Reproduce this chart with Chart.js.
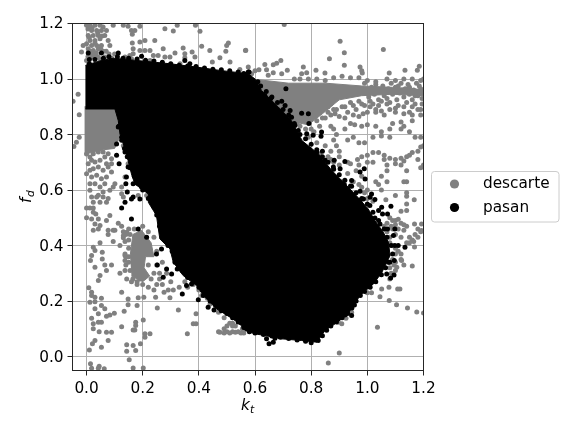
<!DOCTYPE html>
<html><head><meta charset="utf-8">
<style>html,body{margin:0;padding:0;background:#fff}canvas{display:block}</style>
<script src="https://cdn.jsdelivr.net/npm/chart.js@4"></script></head>
<body><canvas id="c" width="576" height="432"></canvas>
<script>
const seriesNames = ['descarte', 'pasan'];
const seriesColors = ['#808080', '#000000'];
const kTicks = [0, 0.2, 0.4, 0.6, 0.8, 1.0, 1.2];
const fTicks = [0, 0.2, 0.4, 0.6, 0.8, 1.0, 1.2];

// Outline of the solid mass of "pasan" points
const pasanMass = [[-0.004,1.049],[0.047,1.065],[0.095,1.075],[0.178,1.067],[0.297,1.055],[0.392,1.043],[0.475,1.031],[0.576,1.019],[0.6,1.0],[0.623,0.959],[0.683,0.899],[0.73,0.851],[0.766,0.779],[0.825,0.731],[0.873,0.671],[0.92,0.623],[0.968,0.572],[1.003,0.532],[1.027,0.49],[1.057,0.448],[1.075,0.412],[1.081,0.364],[1.052,0.304],[1.022,0.262],[0.986,0.232],[0.956,0.196],[0.932,0.154],[0.885,0.118],[0.849,0.094],[0.82,0.052],[0.766,0.058],[0.695,0.064],[0.635,0.076],[0.6,0.082],[0.564,0.094],[0.546,0.118],[0.511,0.142],[0.463,0.172],[0.416,0.22],[0.392,0.256],[0.344,0.292],[0.309,0.34],[0.297,0.388],[0.261,0.424],[0.249,0.508],[0.22,0.556],[0.22,0.586],[0.172,0.622],[0.16,0.658],[0.148,0.706],[0.131,0.766],[0.119,0.802],[0.113,0.85],[0.101,0.892],[-0.004,0.892]];

// Outlines of the solid masses of "descarte" points
const descarteLeftMass = [[-0.007,0.9],[0.11,0.9],[0.115,0.84],[0.118,0.79],[0.1,0.75],[0.06,0.745],[0.02,0.735],[-0.007,0.73]];
const descarteBandMass = [[0.59,1.0],[0.72,0.985],[0.85,0.985],[0.98,0.975],[1.09,0.97],[1.2,0.962],[1.2,0.94],[1.09,0.945],[0.98,0.94],[0.9,0.925],[0.84,0.875],[0.79,0.835],[0.74,0.845],[0.68,0.89],[0.62,0.95]];
const descarteClusterMass = [[0.155,0.36],[0.165,0.44],[0.196,0.455],[0.23,0.41],[0.24,0.36],[0.21,0.36],[0.205,0.32],[0.225,0.29],[0.2,0.27],[0.16,0.29]];

const pasanScatter = [[0.006,1.094],[0.01,1.07],[0.053,1.094],[0.113,1.094],[0.196,1.082],[0.35,1.067],[0.368,1.055],[0.113,0.827],[0.107,0.766],[0.125,0.779],[0.107,0.725],[0.137,0.737],[0.116,0.695],[0.148,0.683],[0.142,0.647],[0.14,0.623],[0.166,0.623],[0.145,0.593],[0.196,0.611],[0.166,0.575],[0.576,1.025],[0.579,1.025],
[0.71,0.965],[0.635,0.94],[0.656,0.93],[0.695,0.92],[0.707,0.905],[0.725,0.887],[0.766,0.877],[0.79,0.875],[0.792,0.84],[0.713,0.85],[0.73,0.862],[0.742,0.833],[0.72,0.815],[0.754,0.815],[0.784,0.803],[0.807,0.797],[0.837,0.809],[0.835,0.794],[0.82,0.737],[0.84,0.74],[0.85,0.707],[0.882,0.707],[0.92,0.703],[0.879,0.683],[0.903,0.677],[0.989,0.677],[0.974,0.665],[0.992,0.64],[0.944,0.634],[0.918,0.62],[0.944,0.614],[0.932,0.592],[0.974,0.596],[1.015,0.586],
[0.137,0.556],[0.125,0.535],[0.16,0.568],[0.19,0.568],[0.16,0.496],[0.184,0.46],[0.214,0.43],[0.249,0.37],[0.267,0.388],[0.252,0.33],[0.285,0.316],[0.273,0.286],[0.315,0.34],[0.323,0.316],[0.303,0.298],[0.356,0.256],[0.341,0.226],[0.374,0.262],[0.398,0.205],[0.416,0.22],[0.433,0.178],[0.454,0.168],[0.55,0.122],
[0.641,0.064],[0.65,0.046],[0.665,0.052],[0.671,0.066],[0.92,0.15],[0.944,0.148],[0.954,0.186],[1.069,0.298],[1.083,0.283],[1.095,0.294],[1.096,0.346],[1.075,0.34],[1.134,0.394],[1.098,0.4],[1.11,0.4],[1.093,0.436],[1.098,0.46],[1.072,0.46],[1.045,0.478],[1.027,0.499],[1.009,0.544],[1.051,0.538],[1.04,0.526],[1.084,0.542],[1.054,0.514],[1.072,0.514],[0.974,0.562],[0.986,0.568],[1.01,0.574],[1.027,0.566]];

// "pasan" points that roughen the edge of the solid mass
const pasanEdge = [[0.01,1.055],[0.03,1.07],[0.06,1.075],[0.08,1.08],[0.11,1.08],[0.13,1.075],[0.15,1.075],[0.18,1.072],[0.21,1.068],[0.24,1.065],[0.27,1.06],[0.3,1.055],[0.33,1.05],[0.36,1.047],[0.39,1.045],[0.42,1.04],[0.45,1.035],[0.48,1.033],[0.51,1.03],[0.54,1.025],[0.56,1.02],
[0.61,0.99],[0.62,0.975],[0.64,0.955],[0.66,0.935],[0.68,0.915],[0.7,0.89],[0.72,0.87],[0.74,0.84],[0.76,0.8],[0.78,0.785],[0.8,0.765],[0.82,0.745],[0.84,0.72],[0.86,0.7],[0.88,0.675],[0.9,0.655],[0.92,0.635],[0.94,0.615],[0.96,0.59],[0.98,0.57],[1.0,0.55],[1.02,0.52],[1.04,0.49],[1.06,0.46],[1.07,0.43],[1.085,0.4],[1.09,0.37],[1.08,0.34],[1.065,0.32],[1.05,0.295],[1.03,0.27],[1.01,0.25],[0.99,0.235],[0.975,0.22],[0.96,0.2],[0.945,0.175],[0.93,0.155],[0.91,0.14],[0.89,0.125],[0.87,0.11],[0.855,0.095],[0.84,0.075],[0.825,0.058],[0.8,0.05],[0.78,0.055],[0.75,0.06],[0.72,0.065],[0.69,0.07],[0.66,0.074],[0.63,0.08],[0.6,0.085],[0.58,0.09],
[0.56,0.105],[0.54,0.125],[0.52,0.14],[0.5,0.155],[0.48,0.165],[0.46,0.185],[0.44,0.2],[0.42,0.225],[0.4,0.25],[0.38,0.27],[0.36,0.285],[0.34,0.31],[0.32,0.35],[0.305,0.38],[0.29,0.4],[0.27,0.44],[0.26,0.47],[0.25,0.51],[0.24,0.54],[0.22,0.57],[0.2,0.6],[0.18,0.625],[0.17,0.65],[0.155,0.68],[0.145,0.72],[0.135,0.75],[0.125,0.79],[0.115,0.83]];

const descarteScatter = [[0,1.194],[0.012,1.194],[0.03,1.194],[0.048,1.194],[0.059,1.187],[0.018,1.175],[0.036,1.175],[0.053,1.175],[0.071,1.175],[0.006,1.157],[0.024,1.157],[0.042,1.157],[0.065,1.157],[0.012,1.139],[0.03,1.139],[0.048,1.145],[0.077,1.139],[0,1.127],[0.018,1.121],[0.036,1.121],[0.053,1.121],[-0.012,1.121],[-0.018,1.097],[0.006,1.109],[0.024,1.103],[0.042,1.109],[0.03,1.085],[0.048,1.073],[0.018,1.079],[0.065,1.079],[0,1.067],[0.083,1.121],[0.095,1.194],[0.131,1.194],[0.148,1.19],[0.19,1.19],[0.16,1.175],[0.172,1.175],[0.163,1.161],[0.279,1.181],[0.309,1.173],[0.323,1.194],[0.388,1.194],[0.404,1.172],[0.163,1.13],[0.19,1.133],[0.208,1.139],[0.243,1.139],[0.166,1.109],[0.154,1.085],[0.166,1.091],[0.19,1.103],[0.208,1.103],[0.226,1.103],[0.238,1.085],[0.255,1.085],[0.226,1.067],[0.16,1.073],[0.137,1.079],[0.273,1.109],[0.344,1.112],[0.41,1.118],[0.505,1.13],[0.499,1.121],[0.439,1.103],[0.496,1.1],[0.566,1.103],[0.279,1.079],[0.297,1.079],[0.315,1.094],[0.35,1.091],[0.35,1.077],[0.376,1.097],[0.386,1.079],[0.333,1.055],[0.475,1.077],[0.448,1.061],[0.546,1.034],[0.511,1.061],
[0.005,1.18],[0.02,1.185],[0.04,1.165],[0.055,1.155],[0.01,1.15],[0.03,1.13],[0.05,1.11],[0.015,1.1],[0.035,1.095],[0.06,1.1],[0.08,1.09],[0.07,1.1],[0.02,1.09],[0.005,1.08],[0.04,1.08],[0.06,1.06],[0.1,1.09],[0.09,1.075],
[-0.03,0.945],[-0.048,0.92],[-0.026,0.871],[-0.026,0.79],[-0.036,0.772],[-0.045,0.757],
[0,0.73],[0.012,0.719],[0.024,0.731],[0.042,0.737],[0.059,0.737],[0.077,0.731],[0.006,0.695],[0.018,0.707],[0.03,0.701],[0.048,0.707],[0.065,0.719],[0.089,0.713],[0.012,0.671],[0.024,0.677],[0.042,0.683],[0.071,0.695],[0.089,0.695],[0.059,0.671],[0.077,0.683],[0.018,0.647],[0,0.659],[0.036,0.653],[0.053,0.641],[0.071,0.647],[0.089,0.665],[0.101,0.623],[0.012,0.623],[0.03,0.623],[0.065,0.623],[0.048,0.611],[0.095,0.611],[0.012,0.599],[0.059,0.593],[0.083,0.599],[0.018,0.575],[0.042,0.581],[0.125,0.611],[0.125,0.587],[0.131,0.575],[0.137,0.647],[0.148,0.695],[0.131,0.76],[0.145,0.752],[0.16,0.707],[0.16,0.737],[0.226,0.623],[0.214,0.58],[0.184,0.58],
[0.036,0.575],[0.059,0.575],[0.077,0.57],[0.024,0.556],[0.048,0.556],[0.071,0.556],[0.012,0.535],[0.024,0.535],[0,0.535],[0.024,0.52],[0,0.5],[0.033,0.514],[0.018,0.496],[0.042,0.496],[0.083,0.508],[0.071,0.49],[0.03,0.478],[0.048,0.472],[0.077,0.455],[0.101,0.455],[0.113,0.48],[0.125,0.47],[0.143,0.448],[0.131,0.428],[0.137,0.415],[0.024,0.455],[0.042,0.46],[0.095,0.455],[0.131,0.45],[0.131,0.435],[0.077,0.44],[0.095,0.415],[0.048,0.41],[0.024,0.394],[0.03,0.382],[0.018,0.364],[0.056,0.376],[0.056,0.352],[0.014,0.346],[0.119,0.4],[0.137,0.37],[0.137,0.364],[0.137,0.346],[0.03,0.322],[0.065,0.33],[0.089,0.33],[0.071,0.31],[0.048,0.292],[0.042,0.274],[0.119,0.3],[0.137,0.31],[0.143,0.28],[0.008,0.248],[0.018,0.232],[0.018,0.22],[0.03,0.214],[0.053,0.21],[0.012,0.196],[0.03,0.198],[0.053,0.184],[0.03,0.172],[0.042,0.154],[0.065,0.172],[0.071,0.145],[0.083,0.15],[0.099,0.156],[0.018,0.138],[0.042,0.124],[0.053,0.124],[0.024,0.118],[0.024,0.1],[0.045,0.09],[0.071,0.088],[0.089,0.088],[0.125,0.108],[0.166,0.096],[0.175,0.124],[0.175,0.112],[0.172,0.096],[0.202,0.132],[0.208,0.082],[0.226,0.082],[0.208,0.07],[0.077,0.058],[0.03,0.058],[0.021,0.046],[0.053,0.034],[0.01,0.024],[0.143,0.043],[0.143,0.019],[0.166,0.04],[0.192,0.046],[0.175,0.022],[0.152,-0.011],[0.014,-0.026],[0.018,-0.042],[0.042,-0.042],[0.045,-0.035],[0.063,-0.044],[0.166,-0.041],[0.202,-0.041],[0.125,0.232],[0.148,0.208],[0.184,0.212],[0.204,0.214],[0.148,0.187],[0.134,0.163],[0.18,0.184],[0.252,0.175],[0.327,0.168],[0.39,0.154],[0.38,0.118],[0.39,0.118],[0.359,0.082],[0.297,0.212],[0.246,0.214],[0.276,0.232],[0.291,0.24],[0.309,0.24],
[0.15,0.46],[0.155,0.44],[0.15,0.42],[0.15,0.39],[0.15,0.36],[0.15,0.34],[0.155,0.31],[0.165,0.28],[0.18,0.27],[0.2,0.26],[0.22,0.25],[0.24,0.24],[0.25,0.26],[0.26,0.28],[0.27,0.26],[0.24,0.3],[0.22,0.33],[0.25,0.33],[0.26,0.3],[0.23,0.28],[0.21,0.29],[0.19,0.28],[0.17,0.46],[0.2,0.47],[0.22,0.45],[0.24,0.43],[0.25,0.38],[0.27,0.34],[0.285,0.3],[0.3,0.27],[0.33,0.25],[0.14,0.44],[0.14,0.36],[0.14,0.33],[0.16,0.27],[0.18,0.26],
[0.35,0.27],[0.36,0.25],[0.38,0.26],[0.4,0.24],[0.41,0.22],[0.43,0.21],[0.44,0.19],[0.46,0.18],[0.47,0.16],[0.49,0.14],[0.52,0.12],
[0.475,0.088],[0.49,0.1],[0.5,0.09],[0.51,0.085],[0.52,0.09],[0.53,0.088],[0.54,0.09],[0.55,0.085],[0.56,0.085],[0.5,0.11],[0.51,0.12],[0.49,0.085],[0.52,0.11],[0.47,0.09],[0.53,0.11],[0.555,0.1],
[0.704,1.196],[0.903,1.136],[0.918,1.095],[1.057,1.106],[0.567,1.104],[0.865,1.073],[0.918,1.05],[0.692,1.067],[0.677,1.057],[0.665,1.051],[0.635,1.052],[0.576,1.043],[0.772,1.043],[0.974,1.043],[1.185,1.046],[1.178,1.032],[1.134,1.032],[1.078,1.022],[0.98,1.03],[0.982,1.022],[0.817,1.032],[0.784,1.023],[0.766,1.019],[0.849,1.022],[0.715,1.032],[0.695,1.019],[0.665,1.023],[0.641,1.033],[0.614,1.033],[0.6,1.03],[0.647,1.014],[0.588,1.019],
[0.74,1.0],[0.76,1.0],[0.79,1.0],[0.82,1.0],[0.85,0.995],[0.88,1.005],[0.91,1.01],[0.94,1.005],[0.97,1.005],[1.0,0.995],[1.03,0.99],[1.07,1.0],[1.1,0.995],[1.13,1.0],[1.16,1.0],[1.19,0.995],[1.2,1.0],
[0.99,0.985],[1.0,0.955],[1.005,0.935],[1.015,0.97],[1.025,0.945],[1.03,0.98],[1.04,0.925],[1.045,0.96],[1.055,0.975],[1.06,0.94],[1.07,0.93],[1.075,0.965],[1.085,0.985],[1.09,0.945],[1.1,0.97],[1.105,0.925],[1.115,0.95],[1.12,0.985],[1.13,0.935],[1.135,0.965],[1.145,0.98],[1.15,0.945],[1.16,0.925],[1.165,0.96],[1.175,0.985],[1.18,0.94],[1.19,0.965],[1.195,0.93],[1.2,0.95],[1.01,0.92],[1.08,0.955],[1.125,0.96],[1.17,0.94],[1.11,0.975],[1.03,0.96],[1.065,0.955],[1.15,0.97],[1.185,0.975],
[0.94,0.915],[0.97,0.92],[0.99,0.905],[1.02,0.91],[1.05,0.92],[1.08,0.915],[1.11,0.905],[1.14,0.915],[1.17,0.91],[1.195,0.91],[0.91,0.9],[0.88,0.89],[0.85,0.86],[0.86,0.9],[0.76,0.83],[0.8,0.82],
[0.66,0.9],[0.69,0.88],[0.71,0.87],[0.75,0.84],[0.78,0.82],[0.81,0.81],[0.83,0.83],[0.86,0.88],[0.89,0.89],[0.92,0.9],[0.95,0.905],[0.98,0.91],[1.01,0.9],[1.04,0.905],[1.07,0.91],[1.1,0.895],[1.13,0.9],[1.16,0.9],[1.19,0.89],[0.87,0.91],[0.96,0.89],[1.03,0.89],[1.06,0.87],[1.15,0.88],
[0.7,0.86],[0.73,0.82],[0.76,0.78],[0.79,0.79],[0.82,0.77],[0.85,0.76],[0.83,0.73],[0.87,0.74],[0.88,0.7],[0.84,0.69],[0.9,0.69],[0.93,0.66],[0.91,0.63],[0.95,0.63],[0.97,0.62],[0.99,0.59],[1.0,0.57],[1.02,0.56],[0.98,0.61],
[1.06,0.47],[1.07,0.45],[1.08,0.43],[1.08,0.41],[1.09,0.4],[1.1,0.37],[1.09,0.35],[1.1,0.31],[1.085,0.3],[1.08,0.32],
[0.82,0.85],[0.84,0.86],[0.87,0.87],[0.885,0.875],[0.9,0.865],[0.92,0.86],[0.93,0.88],[0.95,0.87],[0.97,0.865],[0.985,0.875],[1.0,0.88],[1.03,0.88],[1.05,0.885],[1.08,0.89],[1.1,0.88],[1.13,0.875],[1.16,0.87],[1.18,0.89],[1.19,0.87],[0.87,0.83],[0.88,0.82],[0.89,0.8],[0.92,0.82],[0.94,0.84],[0.955,0.835],[0.98,0.83],[1.0,0.835],[1.03,0.83],[1.05,0.81],[1.08,0.82],[1.09,0.84],[1.12,0.845],[1.12,0.82],[1.13,0.83],[1.16,0.85],[1.15,0.81],[1.19,0.79],[1.17,0.79],[0.88,0.78],[0.89,0.76],[0.9,0.74],[0.93,0.78],[0.95,0.79],[0.97,0.77],[0.99,0.77],[1.02,0.79],[1.05,0.795],[1.08,0.79],[0.86,0.72],[0.87,0.71],[0.9,0.72],[0.93,0.7],[0.94,0.695],[0.96,0.67],[0.98,0.65],[0.97,0.69],[1.0,0.7],
[0.965,0.71],[0.98,0.72],[1.0,0.725],[1.02,0.735],[1.04,0.735],[1.06,0.725],[1.08,0.715],[1.1,0.71],[1.12,0.715],[1.14,0.72],[1.16,0.735],[1.18,0.74],[1.19,0.755],[1.2,0.76],[1.02,0.7],[1.06,0.71],[1.07,0.69],[1.1,0.695],[1.12,0.69],[1.13,0.705],[1.15,0.725],[1.19,0.68],[1.18,0.71],[1.2,0.69],[1.05,0.65],[1.07,0.67],[1.07,0.63],[1.13,0.63],[1.14,0.63],[1.14,0.67],[1.0,0.6],[1.04,0.62],[1.03,0.63],[1.1,0.58],[1.14,0.59],[1.05,0.6],
[1.066,0.565],[1.14,0.578],[1.167,0.565],[1.14,0.55],[1.14,0.526],[1.12,0.524],[1.193,0.478],[1.168,0.478],[1.18,0.46],[1.193,0.454],[1.08,0.5],[1.09,0.49],[1.1,0.49],[1.11,0.495],[1.12,0.48],[1.1,0.475],[1.085,0.47],[1.07,0.48],[1.09,0.46],[1.11,0.46],[1.13,0.475],[1.14,0.47],[1.13,0.455],[1.1,0.44],[1.12,0.43],[1.15,0.43],[1.16,0.42],[1.14,0.41],[1.15,0.41],[1.18,0.43],[1.19,0.45],[1.17,0.44],[1.165,0.415],[1.168,0.395],[1.1,0.39],[1.11,0.38],[1.12,0.37],[1.12,0.35],[1.1,0.34],[1.095,0.33],[1.13,0.33],[1.08,0.28],[1.078,0.202],[1.104,0.187],[1.143,0.175],[1.176,0.161],[1.2,0.157],[1.036,0.106],[0.9,0.013],[0.861,-0.023],[1.045,0.216],[1.077,0.25],[1.108,0.244],[1.116,0.244],[1.051,0.244],[1.015,0.23],[1.0,0.23],[1.16,0.326],[1.122,0.346],[1.105,0.322],[0.909,0.118],[0.897,0.124],[0.944,0.16],[0.924,0.138]];

const toPts = a => a.map(p => ({x: p[0], y: p[1]}));
const scatterSet = (pts, col) => ({data: toPts(pts), backgroundColor: col, borderWidth: 0, pointRadius: 2.5, pointHoverRadius: 2.5, pointBorderWidth: 0, showLine: false});
const massSet = (pts, col) => ({data: toPts(pts), showLine: true, fill: 'shape', backgroundColor: col, borderColor: col, borderWidth: 1, pointRadius: 0, tension: 0});

const extras = {
  id: 'extras',
  beforeDraw(chart) {
    chart.scales.y.getLabelItems().forEach(it => { it.textOffset = 1; });
  },
  afterDraw(chart) {
    const {ctx} = chart;
    ctx.save();
    ctx.strokeStyle = '#262626'; ctx.lineWidth = 1;
    ctx.strokeRect(72.5, 23.5, 351, 347);
    ctx.fillStyle = '#000'; ctx.textBaseline = 'alphabetic'; ctx.textAlign = 'left';
    ctx.font = 'italic 15.3px "DejaVu Sans"';
    ctx.fillText('k', 241, 410);
    ctx.font = 'italic 10.7px "DejaVu Sans"';
    ctx.fillText('t', 250, 413);
    ctx.save();
    ctx.translate(31, 203); ctx.rotate(-Math.PI / 2);
    ctx.font = 'italic 15.3px "DejaVu Sans"';
    ctx.fillText('f', 0, 0);
    ctx.font = 'italic 10.7px "DejaVu Sans"';
    ctx.fillText('d', 6, 3);
    ctx.restore();
    ctx.beginPath(); ctx.roundRect(431.5, 171.5, 127.5, 50.5, 3);
    ctx.fillStyle = '#fff'; ctx.fill();
    ctx.strokeStyle = '#cccccc'; ctx.stroke();
    seriesNames.forEach((n, i) => {
      const y = 184 + i * 23.5;
      ctx.beginPath(); ctx.arc(454.5, y, 4.6, 0, 2 * Math.PI);
      ctx.fillStyle = seriesColors[i]; ctx.fill();
      ctx.fillStyle = '#000'; ctx.font = '15.3px "DejaVu Sans"'; ctx.textBaseline = 'middle';
      ctx.fillText(n, 483, y + 0.5);
    });
    ctx.restore();
  }
};

const axis = (vals, min, max) => ({
  type: 'linear', min, max,
  afterBuildTicks: s => { s.ticks = vals.map(v => ({value: v})); },
  ticks: {color: '#000', font: {family: '"DejaVu Sans"', size: 15.3}, padding: 4, autoSkip: false, maxRotation: 0, callback: v => Number(v).toFixed(1)},
  grid: {color: '#b0b0b0', lineWidth: 1, tickColor: '#262626', tickLength: 5, tickWidth: 1},
  border: {color: '#262626', width: 1}
});

const xAxis = axis(kTicks, -0.05, 1.2);
xAxis.afterFit = s => { s.height = 61.5; };
const yAxis = axis(fTicks, -0.05, 1.2);
yAxis.afterFit = s => { s.width = 72.5; };

new Chart(document.getElementById('c'), {
  type: 'scatter',
  data: {datasets: [
    Object.assign(scatterSet(pasanScatter, seriesColors[1]), {label: seriesNames[1]}),
    Object.assign(scatterSet(pasanEdge, seriesColors[1]), {label: seriesNames[1] + ' edge'}),
    Object.assign(massSet(pasanMass, seriesColors[1]), {label: seriesNames[1] + ' mass'}),
    Object.assign(scatterSet(descarteScatter, seriesColors[0]), {label: seriesNames[0]}),
    Object.assign(massSet(descarteLeftMass, seriesColors[0]), {label: seriesNames[0] + ' mass 1'}),
    Object.assign(massSet(descarteBandMass, seriesColors[0]), {label: seriesNames[0] + ' mass 2'}),
    Object.assign(massSet(descarteClusterMass, seriesColors[0]), {label: seriesNames[0] + ' mass 3'})
  ]},
  options: {
    responsive: false, animation: false, devicePixelRatio: 1,
    layout: {padding: {left: 0, top: 23.5, right: 152.5, bottom: 0}},
    plugins: {legend: {display: false}, tooltip: {enabled: false}, title: {display: false}},
    scales: {x: xAxis, y: yAxis}
  },
  plugins: [extras]
});
</script></body></html>
